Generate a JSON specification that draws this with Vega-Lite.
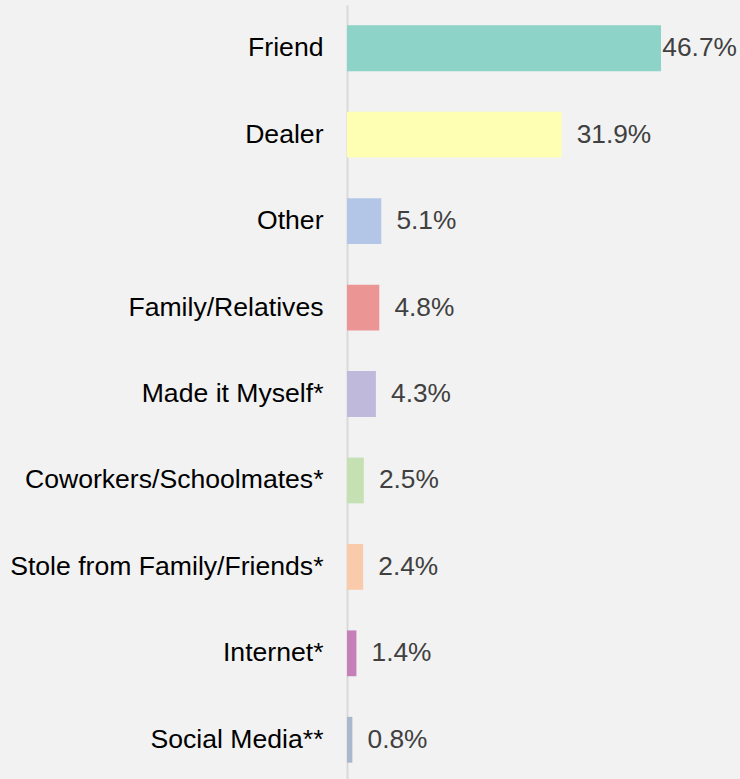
{
  "$schema": "https://vega.github.io/schema/vega-lite/v6.json",
  "autosize": {"type": "none"},
  "padding": {"left": 347, "top": 5, "right": 3, "bottom": 0},
  "width": 390,
  "height": 778,
  "background": "#f2f2f2",
  "config": {"view": {"stroke": null}, "font": "Liberation Sans"},
  "data": {"values": [
    {"source": "Friend", "value": 46.7, "color": "#8dd3c7"},
    {"source": "Dealer", "value": 31.9, "color": "#ffffb3"},
    {"source": "Other", "value": 5.1, "color": "#b3c6e8"},
    {"source": "Family/Relatives", "value": 4.8, "color": "#eb9594"},
    {"source": "Made it Myself*", "value": 4.3, "color": "#bfbadb"},
    {"source": "Coworkers/Schoolmates*", "value": 2.5, "color": "#c5e1b3"},
    {"source": "Stole from Family/Friends*", "value": 2.4, "color": "#f9cbab"},
    {"source": "Internet*", "value": 1.4, "color": "#c580ba"},
    {"source": "Social Media**", "value": 0.8, "color": "#aab8cd"}
  ]},
  "transform": [
    {"calculate": "min(datum.value + 2.25, 46.9)", "as": "labelX"},
    {"calculate": "format(datum.value, '.1f') + '%'", "as": "label"}
  ],
  "encoding": {
    "y": {
      "field": "source", "type": "nominal", "sort": null,
      "scale": {"paddingInner": 0.47, "paddingOuter": 0.235},
      "axis": {
        "title": null, "ticks": false, "labelFontSize": 26.6, "labelColor": "#000000",
        "labelPadding": 24, "labelLimit": 400, "domainColor": "#d9d9d9", "domainWidth": 2,
        "labelFont": "Liberation Sans"
      }
    }
  },
  "layer": [
    {
      "mark": {"type": "bar"},
      "encoding": {
        "x": {"field": "value", "type": "quantitative", "scale": {"domain": [0, 58]}, "axis": null},
        "color": {"field": "color", "type": "nominal", "scale": null}
      }
    },
    {
      "mark": {"type": "text", "align": "left", "baseline": "middle", "fontSize": 26.3, "color": "#404040", "font": "Liberation Sans"},
      "encoding": {
        "x": {"field": "labelX", "type": "quantitative", "scale": {"domain": [0, 58]}, "axis": null},
        "text": {"field": "label"}
      }
    }
  ]
}
